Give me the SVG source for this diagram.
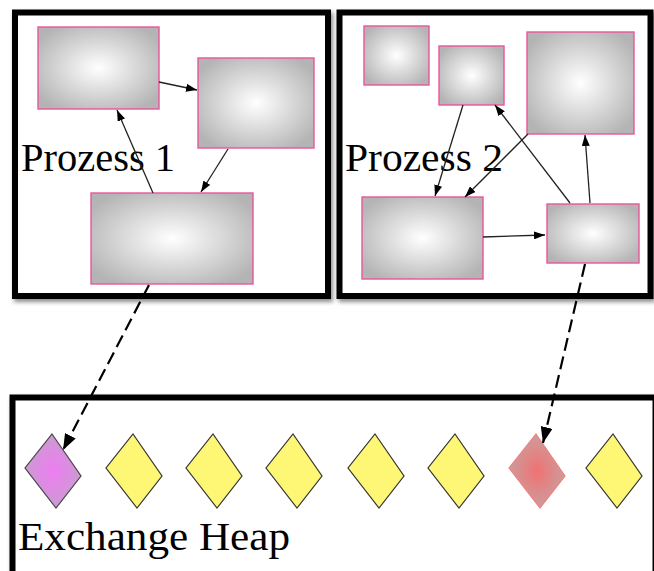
<svg xmlns="http://www.w3.org/2000/svg" width="654" height="571" viewBox="0 0 654 571">
<style>
.frame{fill:#fff;stroke:#000;stroke-width:6}
.node{fill:url(#gray);stroke:#e8559a;stroke-width:1.4}
.lbl{font-family:"Liberation Serif","Times New Roman",serif;font-size:41px;fill:#000}
.conn{stroke:#222;stroke-width:1.3;fill:none;marker-end:url(#ah)}
.dash{stroke:#000;stroke-width:2.2;fill:none;stroke-dasharray:13 6;marker-end:url(#ahb)}
.yd{fill:#fdf775;stroke:#333;stroke-width:1.2}
</style>
<defs>
<radialGradient id="gray" cx="0.5" cy="0.5" r="0.6">
<stop offset="0" stop-color="#ffffff"/>
<stop offset="1" stop-color="#b4b4b4"/>
</radialGradient>
<radialGradient id="purple" cx="0.5" cy="0.5" r="0.55">
<stop offset="0" stop-color="#ee7cf2"/>
<stop offset="1" stop-color="#c79fcd"/>
</radialGradient>
<radialGradient id="red" cx="0.5" cy="0.5" r="0.55">
<stop offset="0" stop-color="#f07272"/>
<stop offset="1" stop-color="#c9a0a0"/>
</radialGradient>
<filter id="sh" x="-5%" y="-5%" width="115%" height="115%">
<feDropShadow dx="2" dy="3" stdDeviation="2" flood-color="#000" flood-opacity="0.45"/>
</filter>
<marker id="ah" markerUnits="userSpaceOnUse" markerWidth="11" markerHeight="8" refX="11" refY="4" orient="auto">
<path d="M0,0 L11,4 L0,8 z" fill="#000"/>
</marker>
<marker id="ahb" markerUnits="userSpaceOnUse" markerWidth="16" markerHeight="12" refX="16" refY="6" orient="auto">
<path d="M0,0 L16,6 L0,12 z" fill="#000"/>
</marker>
</defs>

<g id="prozess1">
<rect class="frame" x="15" y="12.5" width="313" height="283.5" filter="url(#sh)"/>
<text class="lbl" x="21" y="171" textLength="154" lengthAdjust="spacingAndGlyphs">Prozess 1</text>
</g>
<g id="prozess2">
<rect class="frame" x="339.5" y="12.5" width="311" height="283.5" filter="url(#sh)"/>
<text class="lbl" x="345" y="171" textLength="158" lengthAdjust="spacingAndGlyphs">Prozess 2</text>
</g>
<g id="exchange-heap">
<rect class="frame" x="12.5" y="397.5" width="643" height="200" filter="url(#sh)"/>
<text class="lbl" x="18" y="550" textLength="272" lengthAdjust="spacingAndGlyphs">Exchange Heap</text>
</g>

<g id="p1-a"><rect class="node" x="38" y="27" width="121" height="82"/></g>
<g id="p1-b"><rect class="node" x="198" y="58" width="116" height="90"/></g>
<g id="p1-c"><rect class="node" x="91" y="193" width="162" height="91"/></g>

<g id="p2-d"><rect class="node" x="364" y="26" width="65" height="59"/></g>
<g id="p2-e"><rect class="node" x="439" y="46" width="65" height="59"/></g>
<g id="p2-f"><rect class="node" x="527" y="32" width="107" height="102"/></g>
<g id="p2-g"><rect class="node" x="362" y="197" width="121" height="82"/></g>
<g id="p2-h"><rect class="node" x="547" y="204" width="92" height="59"/></g>

<g id="heap-items">
<g id="h1"><path d="M52,434 L81,476 L56,508 L25,468 Z" fill="url(#purple)" stroke="#444" stroke-width="1.2"/></g>
<g id="h2"><path class="yd" d="M133,434 L162,476 L137,508 L106,468 Z"/></g>
<g id="h3"><path class="yd" d="M213,434 L242,476 L217,508 L186,468 Z"/></g>
<g id="h4"><path class="yd" d="M293,434 L322,476 L297,508 L266,468 Z"/></g>
<g id="h5"><path class="yd" d="M375,434 L404,476 L379,508 L348,468 Z"/></g>
<g id="h6"><path class="yd" d="M455,434 L484,476 L459,508 L428,468 Z"/></g>
<g id="h7"><path d="M536,434 L565,476 L540,508 L509,468 Z" fill="url(#red)" stroke="#f08080" stroke-width="1.2"/></g>
<g id="h8"><path class="yd" d="M613,434 L642,476 L617,508 L586,468 Z"/></g>
</g>

<g id="connectors">
<line class="conn" x1="159" y1="82" x2="197" y2="90"/>
<line class="conn" x1="228" y1="149" x2="201" y2="192"/>
<line class="conn" x1="153" y1="193" x2="117" y2="110"/>
<line class="conn" x1="463" y1="105" x2="435" y2="196"/>
<line class="conn" x1="528" y1="134" x2="465" y2="197"/>
<line class="conn" x1="570" y1="203" x2="495" y2="105"/>
<line class="conn" x1="590" y1="203" x2="585" y2="135"/>
<line class="conn" x1="483" y1="237" x2="545" y2="235"/>
<line class="dash" x1="149" y1="285" x2="63" y2="450"/>
<line class="dash" x1="585" y1="264" x2="543" y2="443"/>
</g>
</svg>
